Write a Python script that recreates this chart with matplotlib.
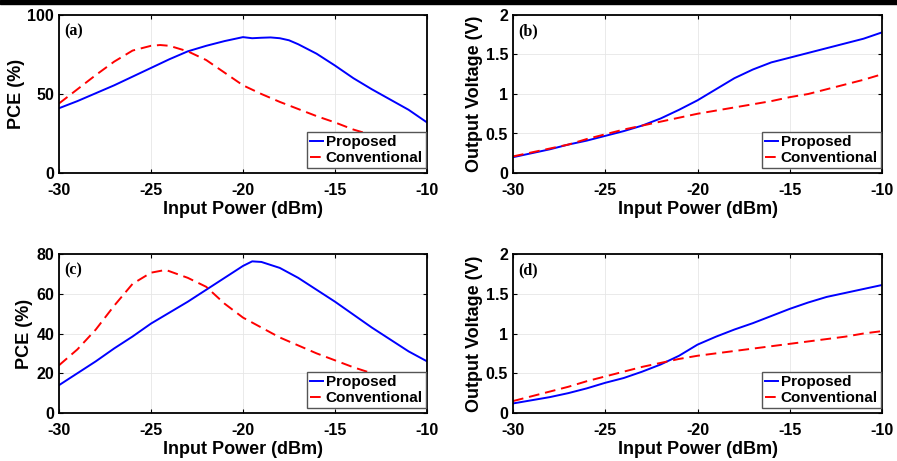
import matplotlib
matplotlib.use("Agg")
import matplotlib.pyplot as plt
from matplotlib.patches import Rectangle

# input power sweep (dBm)
pin_a = [-30, -29, -28, -27, -26, -25, -24, -23, -22, -21, -20, -19.5, -19, -18.5, -18, -17.5,
         -17, -16, -15, -14, -13, -12, -11, -10]
pce_prop_a = [41, 45.5, 50.5, 55.5, 61, 66.5, 72, 77, 80.5, 83.5, 86, 85.3, 85.6, 85.8, 85.3, 84,
              81.5, 75.5, 68, 60, 53, 46.5, 40, 32]
pin_conv_a = [-30, -29, -28, -27, -26, -25, -24.5, -24, -23, -22, -21, -20, -19, -18, -17, -16,
              -15, -14, -13, -12, -11, -10]
pce_conv_a = [44, 53, 62, 70.5, 77.5, 80.5, 81, 80.5, 77, 71.5, 63.5, 55.5, 50, 45, 40.5, 36,
              32, 27.5, 24, 21, 18, 15]

pin = [-30, -29, -28, -27, -26, -25, -24, -23, -22, -21, -20, -19, -18, -17, -16, -15, -14,
       -13, -12, -11, -10]
vout_prop_b = [0.2, 0.25, 0.3, 0.36, 0.41, 0.47, 0.53, 0.6, 0.69, 0.8, 0.92, 1.06, 1.2, 1.31,
               1.4, 1.46, 1.52, 1.58, 1.64, 1.7, 1.78]
vout_conv_b = [0.21, 0.26, 0.31, 0.36, 0.43, 0.49, 0.55, 0.6, 0.65, 0.7, 0.75, 0.79, 0.83, 0.87,
               0.91, 0.96, 1.0, 1.06, 1.12, 1.18, 1.25]

pin_c = [-30, -29, -28, -27, -26, -25, -24, -23, -22, -21, -20, -19.5, -19, -18, -17, -16, -15,
         -14, -13, -12, -11, -10]
pce_prop_c = [14, 20, 26, 32.5, 38.5, 45, 50.5, 56, 62, 68, 74, 76.3, 76, 73, 68, 62, 56,
              49.5, 43, 37, 31, 26]
pin_conv_c = [-30, -29, -28, -27, -26, -25, -24.2, -23, -22, -21, -20, -19, -18, -17, -16, -15,
              -14, -13, -12, -11, -10]
pce_conv_c = [24, 32, 42, 54, 65, 70.6, 72, 68, 63.5, 55, 48, 43, 38, 34, 30, 26.5, 23, 20,
              17, 14, 11]

vout_prop_d = [0.12, 0.16, 0.2, 0.25, 0.31, 0.38, 0.44, 0.52, 0.61, 0.72, 0.86, 0.96, 1.05,
               1.13, 1.22, 1.31, 1.39, 1.46, 1.51, 1.56, 1.61]
vout_conv_d = [0.15, 0.21, 0.27, 0.33, 0.4, 0.46, 0.52, 0.58, 0.63, 0.68, 0.72, 0.75, 0.78,
               0.81, 0.84, 0.87, 0.9, 0.93, 0.96, 1.0, 1.03]

plt.rcParams['font.family'] = ['Liberation Sans', 'DejaVu Sans']
plt.rcParams['font.weight'] = 'bold'
plt.rcParams['axes.unicode_minus'] = False

fig = plt.figure(figsize=(8.97, 4.61), dpi=100)
W, H = 897, 461


def add_ax(l, t, r, b):
    return fig.add_axes([l / W, 1 - b / H, (r - l) / W, (b - t) / H])


panels = [
    (add_ax(59, 15, 427, 173), pin_a, pce_prop_a, pin_conv_a, pce_conv_a, [0, 100], [0, 50, 100],
     'PCE (%)', '(a)'),
    (add_ax(513, 15, 882, 173), pin, vout_prop_b, pin, vout_conv_b, [0, 2], [0, 0.5, 1, 1.5, 2],
     'Output Voltage (V)', '(b)'),
    (add_ax(59, 254, 427, 413), pin_c, pce_prop_c, pin_conv_c, pce_conv_c, [0, 80],
     [0, 20, 40, 60, 80], 'PCE (%)', '(c)'),
    (add_ax(513, 254, 882, 413), pin, vout_prop_d, pin, vout_conv_d, [0, 2], [0, 0.5, 1, 1.5, 2],
     'Output Voltage (V)', '(d)'),
]

for ax, xp, yp, xc, yc, ylim, yt, ylab, tag in panels:
    ax.plot(xp, yp, color='#0000ff', lw=1.4, label='Proposed')
    ax.plot(xc, yc, color='#ff0000', lw=1.4, ls=(0, (5.5, 3)), label='Conventional')
    ax.set_xlim(-30, -10)
    ax.set_ylim(*ylim)
    ax.set_xticks([-30, -25, -20, -15, -10])
    ax.set_yticks(yt)
    ax.set_yticklabels([('%g' % v) for v in yt])
    ax.grid(True, color='#e6e6e6', lw=0.6)
    ax.set_axisbelow(True)
    ax.tick_params(direction='in', length=3, width=0.8, labelsize=11.5, top=True, right=True)
    ax.tick_params(axis='x', pad=7)
    ax.tick_params(axis='y', pad=3.5)
    for s in ax.spines.values():
        s.set_linewidth(1.3)
    ax.set_xlabel('Input Power (dBm)', fontsize=13, fontweight='bold', labelpad=2)
    ax.set_ylabel(ylab, fontsize=13, fontweight='bold', labelpad=2)
    ax.text(0.015, 0.95, tag, transform=ax.transAxes, ha='left', va='top', fontsize=11.5,
            fontweight='bold', family='Liberation Serif')
    leg = ax.legend(loc='lower right', bbox_to_anchor=(0.997, 0.03), borderaxespad=0,
                    fontsize=11, handlelength=0.8, handletextpad=0.2, borderpad=0.2,
                    labelspacing=0.12, fancybox=False, framealpha=1, edgecolor='#555555')
    leg.get_frame().set_linewidth(1.0)

fig.patches.append(Rectangle((0, 1 - 4 / H), 1, 4 / H, transform=fig.transFigure,
                             color='black', zorder=10))

fig.savefig('out.png', dpi=100)
